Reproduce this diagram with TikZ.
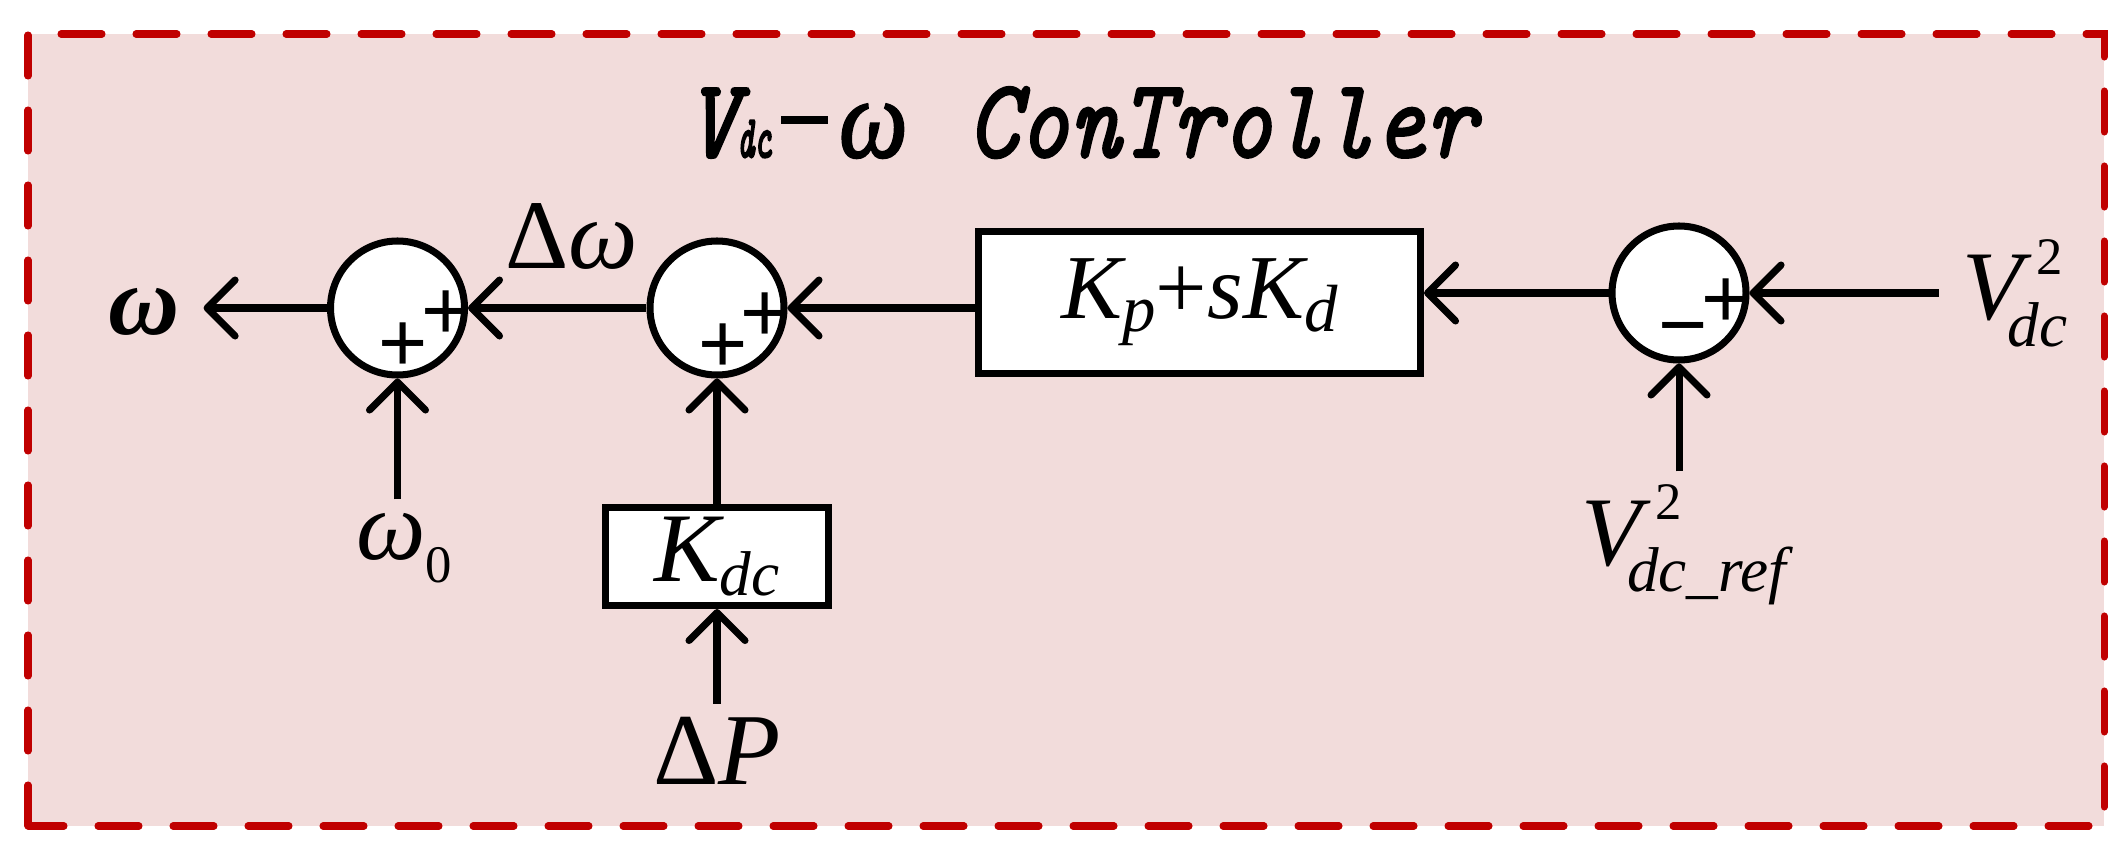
\documentclass[tikz,border=0pt]{standalone}
\usepackage{fontspec}
\setmainfont{Liberation Serif}
\newfontfamily\signfont{Liberation Sans}
\usepackage{graphicx}
\usetikzlibrary{arrows.meta}
\definecolor{boxpink}{RGB}{242,220,219}
\definecolor{dashred}{RGB}{192,0,0}
\newcommand{\sbs}[2]{\raisebox{-0.14em}{\fontsize{#1}{#1}\selectfont #2}}
\newcommand{\vsq}[1]{V\rlap{\kern0.14em\raisebox{0.46em}{\fontsize{15}{15}\selectfont\upshape 2}}\kern-0.15em\raisebox{-0.27em}{\fontsize{18}{18}\selectfont #1}}
% heavier strokes for the title
\newcommand{\heavy}[1]{\special{pdf:literal direct 2 Tr 0.7 w}#1\special{pdf:literal direct 0 Tr 1.993 w}}

\begin{document}
\begin{tikzpicture}[>={Straight Barb[length=2.8mm,width=5.6mm,round]},line width=2pt,
    sum/.style={draw=black,circle,fill=white,inner sep=0pt,minimum size=1.34cm},
    blockbox/.style={draw=black,fill=white,inner sep=0pt},
    lbl/.style={inner sep=0.1cm,font=\fontsize{28}{30}\selectfont\itshape},
    sign/.style={inner sep=0pt,text height=16.9pt,text depth=0pt,font=\signfont\fontsize{24}{24}\selectfont}]
            \useasboundingbox (0,0) rectangle (21.28,8.48);
            \draw[dashred,fill=boxpink,dash pattern=on 0.41cm off 0.34cm,line cap=round] (0.28,0.22) rectangle (21.04,8.14);

            \node[anchor=base] (title) at (10.81,6.91) {\ttfamily\itshape\fontsize{32}{32}\selectfont\heavy{\scalebox{0.86}[1]{V\scalebox{0.64}[1]{\fontsize{17}{17}\selectfont dc}\kern0.1em\rule[0.29em]{0.48em}{0.075em}\kern0.12em{\rmfamily ω}\ \kern0.1em ConTroller}}};

            \node[sum] (sum1) at (3.975,5.40) {};
            \node[sum] (sum2) at (7.17,5.40) {};
            \node[sum] (sum3) at (16.79,5.55) {};
            \node[blockbox,minimum width=4.42cm,minimum height=1.42cm,font=\fontsize{26}{28}\selectfont\itshape] (pd) at (11.995,5.455) {K\sbs{19}{p}\textup{+}sK\sbs{19}{d}};
            \node[blockbox,minimum width=2.23cm,minimum height=0.98cm,font=\fontsize{28}{30}\selectfont\itshape] (kdc) at (7.17,2.915) {K\sbs{18}{dc}};

            \node[lbl,font=\fontsize{28}{30}\selectfont\bfseries\itshape,inner xsep=0.2cm] (wout) at (1.445,5.36) {ω};
            \node[lbl] (dw) at (5.715,6.12) {\textup{Δ}ω};
            \node[lbl] (w0) at (4.04,3.00) {ω\raisebox{-0.24em}{\fontsize{15}{15}\selectfont\upshape 0}};
            \node[lbl,font=\fontsize{29}{31}\selectfont\itshape] (dP) at (7.17,0.97) {\textup{Δ}P};
            \node[lbl,inner xsep=0.2cm] (vin) at (20.15,5.55) {\vsq{dc}};
            \node[lbl] (vref) at (16.84,3.03) {\vsq{dc\_ref}};

            \draw[->] (vin) -- (sum3);
            \draw[->] (vref.north -| sum3) -- (sum3);
            \draw[->] (sum3) -- (sum3 -| pd.east);
            \draw[->] (pd.west |- sum2) -- (sum2);
            \draw[->] (dP) -- (kdc);
            \draw[->] (kdc) -- (sum2);
            \draw[->] (sum2) -- (sum1);
            \draw[->] (w0.north -| sum1) -- (sum1);
            \draw[->] (sum1) -- (sum1 -| wout.east);

            \node[sign] (s1r) at (4.46,5.38) {+};
            \node[sign] (s1b) at (4.03,5.06) {+};
            \node[sign] (s2r) at (7.65,5.36) {+};
            \node[sign] (s2b) at (7.23,5.05) {+};
            \node[sign] (s3r) at (17.26,5.50) {+};
            \node[sign] (s3b) at (16.83,5.24) {−};
        \end{tikzpicture}
\end{document}
